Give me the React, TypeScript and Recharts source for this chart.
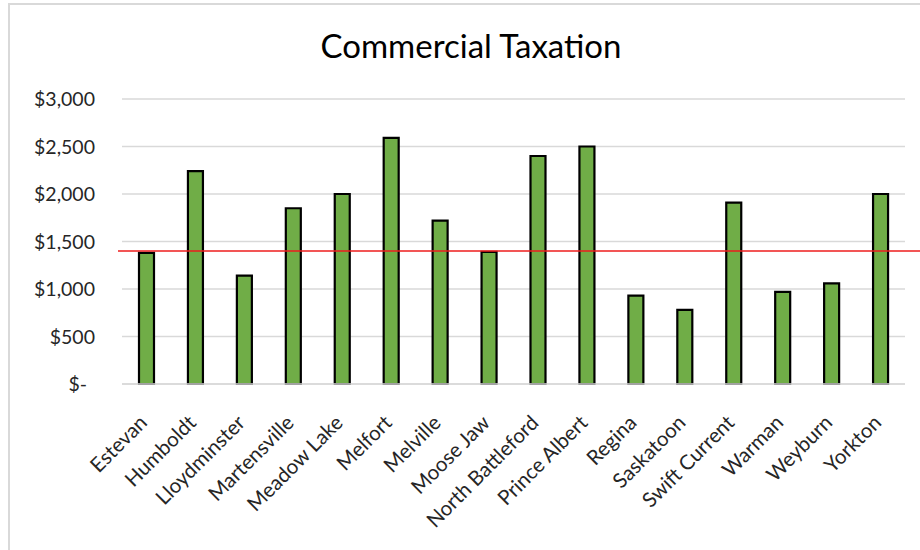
import React from 'react'
import {
  BarChart,
  Bar,
  XAxis,
  YAxis,
  CartesianGrid,
  ReferenceLine,
} from 'recharts'

const cities = [
  'Estevan',
  'Humboldt',
  'Lloydminster',
  'Martensville',
  'Meadow Lake',
  'Melfort',
  'Melville',
  'Moose Jaw',
  'North Battleford',
  'Prince Albert',
  'Regina',
  'Saskatoon',
  'Swift Current',
  'Warman',
  'Weyburn',
  'Yorkton',
]

const commercialTax = [
  1380, 2240, 1140, 1850, 2000, 2590, 1720, 1390, 2400, 2500, 930, 780, 1910,
  970, 1060, 2000,
]

const yTicks = [0, 500, 1000, 1500, 2000, 2500, 3000]

const averageTax = 1400

const data = cities.map((city, i) => ({ city, tax: commercialTax[i] }))

const font = 'Lato, "Open Sans", sans-serif'

function formatMoney(v: number) {
  if (v === 0) return '$-'
  return '$' + v.toLocaleString('en-US')
}

function YTick({ x, y, payload }: any) {
  const v = payload.value
  return (
    <text
      x={v === 0 ? x - 8 : x}
      y={y}
      dy="0.36em"
      textAnchor="end"
      fontFamily={font}
      fontSize={19.5}
      fill="#262626"
    >
      {formatMoney(v)}
    </text>
  )
}

function XTick({ x, y, payload }: any) {
  return (
    <g transform={`translate(${x + 2},${y + 40})`}>
      <text
        x={0}
        y={0}
        textAnchor="end"
        transform="rotate(-45)"
        fontFamily={font}
        fontSize={20.5}
        fill="#262626"
      >
        {payload.value}
      </text>
    </g>
  )
}

function AverageLine(props: any) {
  return (
    <line
      x1={props.x1 - 4}
      y1={props.y1}
      x2={920}
      y2={props.y2}
      stroke="#ee1c1c"
      strokeWidth={1.3}
    />
  )
}

export default function App() {
  return (
    <div
      style={{
        position: 'absolute',
        left: 0,
        top: 0,
        width: 920,
        height: 550,
        background: '#fff',
        overflow: 'hidden',
      }}
    >
      <div
        style={{
          position: 'absolute',
          left: 8,
          top: 3,
          width: 920,
          height: 560,
          borderTop: '2px solid #d9d9d9',
          borderLeft: '2px solid #d9d9d9',
        }}
      />
      <div
        style={{
          position: 'absolute',
          left: 0,
          top: 25,
          width: 942,
          textAlign: 'center',
          fontFamily: font,
          fontSize: 33,
          color: '#000',
        }}
      >
        Commercial Taxation
      </div>
      <div style={{ position: 'absolute', left: 0, top: 0 }}>
        <BarChart
          width={920}
          height={550}
          data={data}
          margin={{ top: 99, right: 15, bottom: 0, left: 0 }}
        >
          <CartesianGrid
            vertical={false}
            stroke="#d9d9d9"
            strokeWidth={1.5}
          />
          <XAxis
            dataKey="city"
            interval={0}
            height={166}
            tickLine={false}
            tickSize={0}
            tickMargin={0}
            axisLine={{ stroke: '#d9d9d9', strokeWidth: 1.5 }}
            tick={<XTick />}
          />
          <YAxis
            width={122}
            domain={[0, 3000]}
            ticks={yTicks}
            axisLine={false}
            tickLine={false}
            tickSize={0}
            tickMargin={27}
            tick={<YTick />}
          />
          <Bar
            dataKey="tax"
            fill="#70ad47"
            stroke="#000"
            strokeWidth={2.2}
            barSize={15}
            isAnimationActive={false}
          />
          <ReferenceLine y={averageTax} shape={AverageLine} />
        </BarChart>
      </div>
    </div>
  )
}
